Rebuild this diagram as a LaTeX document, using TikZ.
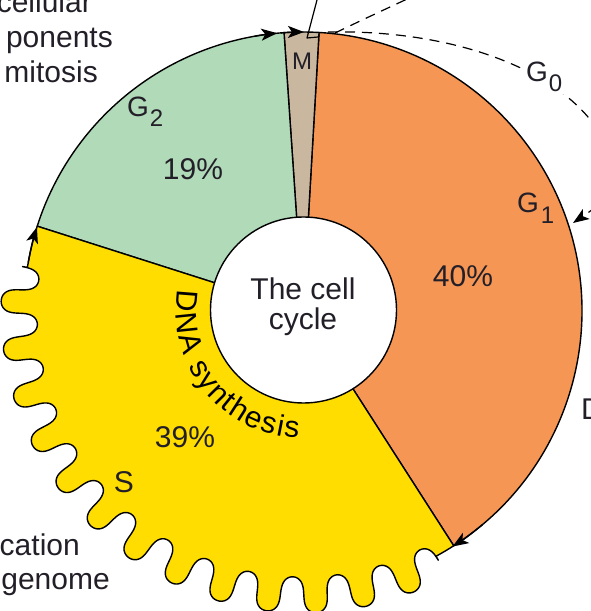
\documentclass[tikz,border=0pt]{standalone}
\usepackage{fontspec}
\setmainfont{Liberation Sans}
\usetikzlibrary{arrows.meta,decorations.text}
\definecolor{gone}{RGB}{245,150,85}
\definecolor{gtwo}{RGB}{176,218,184}
\definecolor{syel}{RGB}{255,221,0}
\definecolor{mtan}{RGB}{201,183,160}
\definecolor{txt}{RGB}{35,31,40}
\begin{document}
\begin{tikzpicture}[x=1pt,y=1pt,line join=round,
  wedge/.style={draw=black,line width=1.4pt},
  arr/.style={-{Stealth[length=16pt,width=12pt,inset=4pt]},line width=1.4pt},
  dsh/.style={dash pattern=on 10pt off 7pt,line width=1.2pt},
  lab/.style={font=\fontsize{30}{32}\selectfont,text=txt,inner sep=0pt},
  small/.style={font=\fontsize{24}{26}\selectfont,text=txt,inner sep=0pt}]
\useasboundingbox (0,0) rectangle (591,611);
\clip (0,0) rectangle (591,611);
\begin{scope}[shift={(303,300)}]
  \filldraw[wedge,fill=gone] (0,0) -- (-57.3:279) arc[start angle=-57.3,end angle=86.7,radius=279] -- cycle;
  \filldraw[wedge,fill=mtan] (0,0) -- (86.7:279) arc[start angle=86.7,end angle=93.9,radius=279] -- cycle;
  \filldraw[wedge,fill=gtwo] (0,0) -- (93.9:279) arc[start angle=93.9,end angle=162.3,radius=279] -- cycle;
  \filldraw[wedge,fill=syel] (0,0) -- (162.3:279) arc[start angle=162.3,end angle=171,radius=279]
    -- plot[domain=0:13.5,samples=800,variable=\wv]
       ({171+127.5/13.5*(\wv-0.07*sin(720*\wv))}:{284-18*sin(360*\wv)})
    -- (298.5:279) arc[start angle=298.5,end angle=302.7,radius=279] -- cycle;
  \filldraw[wedge,fill=white] (0.5,1) circle[radius=93];
  \draw[arr] (170:279) arc[start angle=170,end angle=162.5,radius=279];
  \draw[arr] (-50:279) arc[start angle=-50,end angle=-57.6,radius=279];
  \draw[arr] (100:279) arc[start angle=100,end angle=95.3,radius=279];
  \draw[arr] (94.5:279) arc[start angle=94.5,end angle=89.8,radius=279];
  \path[decorate,decoration={text along path,text align={fit to path},
     text={|\fontsize{30}{31}\selectfont|DNA synthesis}}]
     (170.5:127) arc[start angle=170.5,end angle=268,radius=127];
\end{scope}
% dashed G0 loop and exit line
\coordinate (g0a) at (328,579);
\coordinate (g0b) at (612,450);
\coordinate (g1in) at (573,388);
\draw[dsh] (g0a) .. controls (470,582) and (590,530) .. (g0b);
\draw[dsh,-{Stealth[length=16pt,width=12pt,inset=4pt]}] (g0b) .. controls (620,420) and (598,405) .. (g1in);
\coordinate (exa) at (335,578);
\coordinate (exb) at (420,618);
\draw[dsh] (exa) .. controls (360,590) .. (exb);
% pointer line at M
\coordinate (pa) at (317,611);
\coordinate (pb) at (307,573);
\coordinate (pc) at (318,574);
\draw[line width=1.2pt] (pa) -- (pb) -- (pc);
% labels
\node[lab,anchor=base east] (t1) at (92,598) {cellular};
\node[lab,anchor=base east] (t2) at (113,563) {ponents};
\node[lab,anchor=base east] (t3) at (98,528) {mitosis};
\node[lab,anchor=base east] (t4) at (80,56) {cation};
\node[lab,anchor=base east] (t5) at (110,21) {genome};
\node[lab,anchor=base] (c1) at (303,311) {The cell};
\node[lab,anchor=base] (c2) at (303,281) {cycle};
\node[lab,anchor=base] (p19) at (193,431) {19\%};
\node[lab,anchor=base] (p40) at (463,324) {40\%};
\node[lab,anchor=base] (p39) at (185,163) {39\%};
\node[lab,anchor=base] (ls) at (124,118) {S};
\node[small,anchor=base] (lm) at (302,541) {M};
\node[lab,font=\fontsize{28}{30}\selectfont,anchor=base west,fill=white,inner sep=2pt] (lg0) at (524,529) {G\kern1pt\raisebox{-10pt}{\fontsize{24}{26}\selectfont 0}};
\node[lab,font=\fontsize{28}{30}\selectfont,anchor=base west] (lg1) at (517,398) {G\kern2pt\raisebox{-11pt}{\fontsize{24}{26}\selectfont 1}};
\node[lab,font=\fontsize{28}{30}\selectfont,anchor=base west] (lg2) at (127,494) {G\kern1pt\raisebox{-10pt}{\fontsize{24}{26}\selectfont 2}};
\node[lab,anchor=base west] (ld) at (581,191) {D};
\end{tikzpicture}
\end{document}
